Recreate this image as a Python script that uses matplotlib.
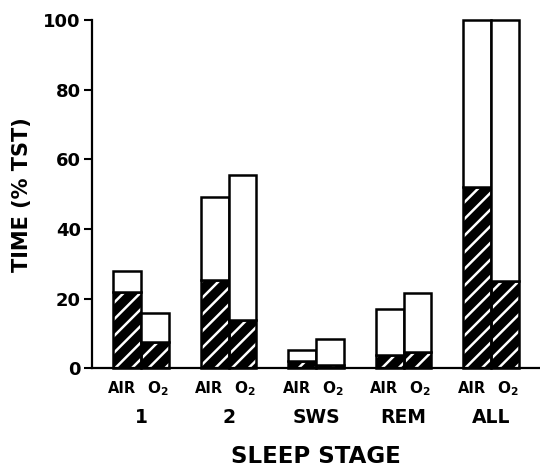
import numpy as np
import matplotlib
matplotlib.use("Agg")
import matplotlib.pyplot as plt

plt.rcParams['font.family'] = ['DejaVu Sans']
plt.rcParams['font.weight'] = 'bold'
plt.rcParams['mathtext.fontset'] = 'custom'
plt.rcParams['mathtext.rm'] = 'DejaVu Sans:bold'
plt.rcParams['mathtext.default'] = 'rm'
plt.rcParams['hatch.linewidth'] = 1.8
plt.rcParams['hatch.color'] = 'white'

# Donnees (% TST)
stages = ["1", "2", "SWS", "REM", "ALL"]
air_total = [27.9, 49.1, 5.3, 17.0, 100.0]
air_hatched = [22.0, 25.3, 2.1, 3.7, 52.0]
o2_total = [16.0, 55.5, 8.3, 21.6, 100.0]
o2_hatched = [7.5, 14.0, 1.0, 4.6, 25.1]
cond_labels = ["AIR", "O$_2$"]

fig = plt.figure(figsize=(5.4, 4.69), dpi=100)
ax = fig.add_axes([92 / 540, (469 - 368.3) / 469, 1 - 92 / 540, 348.3 / 469])

x = np.arange(len(stages))
w = 0.315

for offs, tot, hat in [(-w / 2, air_total, air_hatched), (w / 2, o2_total, o2_hatched)]:
    # partie hachuree (fond noir, lignes blanches) puis contours
    ax.bar(x + offs, hat, w, color='black', edgecolor='white', hatch='//',
           linewidth=0, clip_on=False, zorder=2)
    ax.bar(x + offs, hat, w, facecolor='none', edgecolor='black',
           linewidth=1.8, clip_on=False, zorder=3)
    ax.bar(x + offs, np.array(tot) - np.array(hat), w, bottom=hat,
           facecolor='white', edgecolor='black', linewidth=1.8,
           clip_on=False, zorder=3)

ax.set_xlim(-0.56, 4.56)
ax.set_ylim(0, 100)
ax.set_yticks([0, 20, 40, 60, 80, 100])
ax.tick_params(axis='y', labelsize=13, length=6, width=1.5, pad=2)
ax.set_xticks([])
for s in ['top', 'right']:
    ax.spines[s].set_visible(False)
ax.spines['left'].set_linewidth(1.6)
ax.spines['bottom'].set_linewidth(1.6)

ax.set_ylabel("TIME (% TST)", fontsize=15, fontweight='bold', labelpad=8)

for i, st in enumerate(stages):
    ax.text(i - w / 2 - 0.06, -5.8, cond_labels[0], ha='center', va='center',
            fontsize=10.5, fontweight='bold')
    ax.text(i + w / 2 + 0.03, -5.8, cond_labels[1], ha='center', va='center',
            fontsize=11, fontweight='bold')
    ax.text(i, -14.2, st, ha='center', va='center', fontsize=13.5, fontweight='bold')

ax.text(0.5, -0.252, "SLEEP STAGE", transform=ax.transAxes, ha='center', va='center',
        fontsize=16.5, fontweight='bold')

fig.savefig("out.png", dpi=100)
